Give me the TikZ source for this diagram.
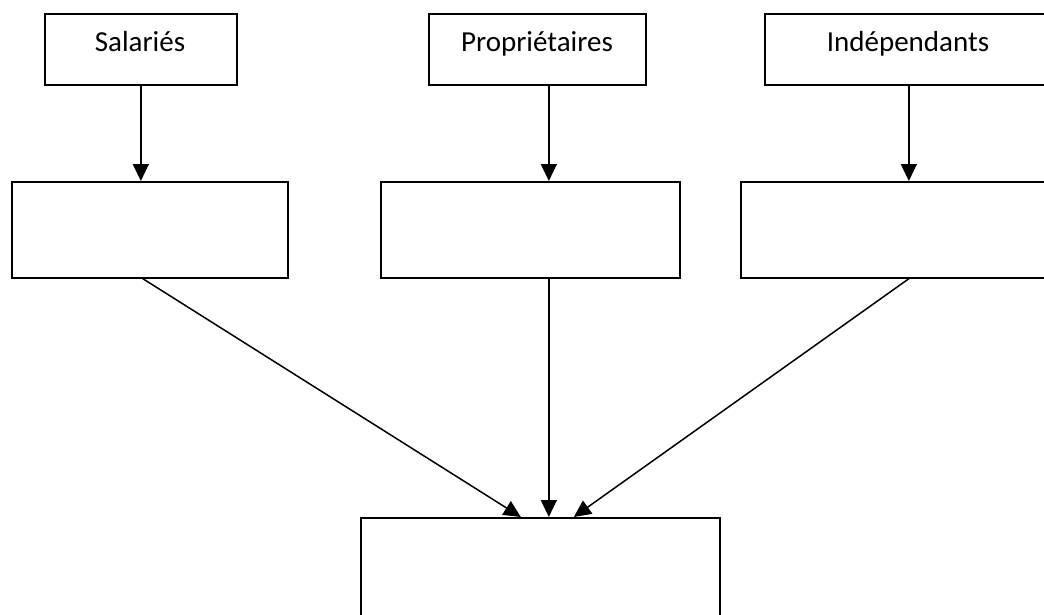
\documentclass[tikz,border=0pt]{standalone}
\usepackage{fontspec}
\setmainfont{Carlito}
\usetikzlibrary{arrows.meta}
\begin{document}
\begin{tikzpicture}[x=1pt,y=-1pt,
  box/.style={draw=black,line width=1.7pt,fill=white,anchor=north west,inner sep=0pt},
  lbl/.style={anchor=base,inner sep=0pt,font=\fontsize{29}{35}\selectfont},
  arr/.style={line width=1.5pt,-{Triangle[length=17pt,width=16pt]}}]
\useasboundingbox (0,0) rectangle (1044,615);
\clip (0,0) rectangle (1044,615);
\fill[white] (0,0) rectangle (1044,615);
% top row
\node[box,minimum width=192pt,minimum height=71pt] (s1) at (44,13) {};
\node[box,minimum width=217pt,minimum height=71pt] (p1) at (428,13) {};
\node[box,minimum width=288pt,minimum height=71pt] (i1) at (764,13) {};
\node[lbl] (s1t) at (140,52) {Salariés};
\node[lbl] (p1t) at (537,52) {Propriétaires};
\node[lbl] (i1t) at (908,52) {Indépendants};
% middle row
\node[box,minimum width=276pt,minimum height=96pt] (s2) at (11,181) {};
\node[box,minimum width=299pt,minimum height=96pt] (p2) at (380,181) {};
\node[box,minimum width=336pt,minimum height=96pt] (i2) at (740,181) {};
% bottom
\node[box,minimum width=359pt,minimum height=140pt] (b) at (360,517) {};
% arrows
\draw[arr] (s1.south) -- (s1.south |- s2.north);
\draw[arr] ([xshift=11.5pt]p1.south) -- ([xshift=11.5pt]p1.south |- p2.north);
\draw[arr] (i1.south) -- (i1.south |- i2.north);
\draw[arr] ([xshift=-7pt]s2.south) -- ([xshift=-19.5pt]b.north);
\draw[arr] ([xshift=18.5pt]p2.south) -- ([xshift=8.5pt]b.north);
\draw[arr] (i2.south) -- ([xshift=33.5pt]b.north);
\end{tikzpicture}
\end{document}
